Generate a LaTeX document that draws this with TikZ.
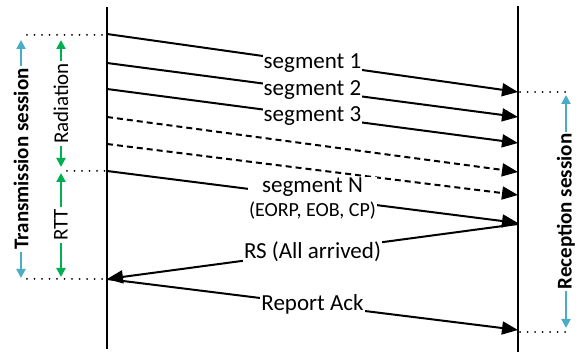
\documentclass[tikz,border=0pt]{standalone}
\usepackage{fontspec}
\setmainfont{Carlito}
\usetikzlibrary{arrows.meta}
\definecolor{sessblue}{RGB}{75,172,198}
\definecolor{rttgreen}{RGB}{0,176,80}

\begin{document}
\begin{tikzpicture}[x=1pt, y=-1pt,
  lifeline/.style={line width=2pt},
  msg/.style={line width=2pt, -{Triangle[length=16pt, width=13pt]}},
  lbl/.style={fill=white, inner sep=1pt, text=black, font=\fontsize{23}{25}\selectfont},
  guide/.style={line width=2pt, line cap=round, dash pattern=on 0pt off 7.5pt},
  period/.style={line width=2pt, {Triangle[length=9pt, width=9pt]}-{Triangle[length=9pt, width=9pt]}},
  periodlbl/.style={lbl, rotate=90, inner sep=2pt, font=\fontsize{21}{23}\selectfont}]
  \useasboundingbox (0,0) rectangle (586,352);

  % Lifelines
  \coordinate (ltop) at (107,7);
  \coordinate (lbot) at (107,349);
  \coordinate (rtop) at (518,6);
  \coordinate (rbot) at (518,352);
  \draw[lifeline] (ltop) -- (lbot);
  \draw[lifeline] (rtop) -- (rbot);

  % Segments
  \coordinate (tx1) at (107,34);  \coordinate (rx1) at (518,92);
  \coordinate (tx2) at (107,63);  \coordinate (rx2) at (518,117);
  \coordinate (tx3) at (107,89);  \coordinate (rx3) at (518,143);
  \coordinate (tx4) at (107,117); \coordinate (rx4) at (518,172);
  \coordinate (tx5) at (107,144); \coordinate (rx5) at (518,195);
  \coordinate (txN) at (107,171); \coordinate (rxN) at (518,223);
  \coordinate (rxR) at (518,224); \coordinate (txR) at (107,279);
  \coordinate (rxA) at (518,330);

  \foreach \i in {1,2,3}
    \draw[msg] (tx\i) -- node[lbl] {segment \i} (rx\i);
  \foreach \i in {4,5}
    \draw[msg, dash pattern=on 6pt off 4pt] (tx\i) -- (rx\i);
  \draw[msg] (txN) -- node[lbl, align=center, yshift=-2pt] {segment N\\[-1pt]{\fontsize{20}{22}\selectfont (EORP, EOB, CP)}} (rxN);
  \draw[msg] (rxR) -- node[lbl] {RS (All arrived)} (txR);
  \draw[msg] (txR) -- node[lbl] {Report Ack} (rxA);

  % Dotted guides
  \coordinate (g1) at (27,35);  \coordinate (l1) at (107,35);
  \coordinate (g2) at (67,171); \coordinate (l2) at (107,171);
  \coordinate (g3) at (27,279); \coordinate (l3) at (107,279);
  \coordinate (g4) at (567,92); \coordinate (r4) at (520,92);
  \coordinate (g5) at (567,332); \coordinate (r5) at (520,332);
  \draw[guide] (g1) -- (l1);
  \draw[guide] (g2) -- (l2);
  \draw[guide] (g3) -- (l3);
  \draw[guide] (r4) -- (g4);
  \draw[guide] (r5) -- (g5);

  % Sessions
  \coordinate (ts1) at (21,40);  \coordinate (ts2) at (21,278);
  \coordinate (rd1) at (61,40);  \coordinate (rd2) at (61,167);
  \coordinate (rt1) at (61,173); \coordinate (rt2) at (61,277);
  \coordinate (rs1) at (566,95); \coordinate (rs2) at (566,328);
  \draw[period, sessblue] (ts2) -- node[periodlbl, font=\fontsize{21}{23}\selectfont\bfseries] {Transmission session} (ts1);
  \draw[period, rttgreen] (rd2) -- node[periodlbl] {Radiation} (rd1);
  \draw[period, rttgreen] (rt2) -- node[periodlbl] {RTT} (rt1);
  \draw[period, sessblue] (rs2) -- node[periodlbl, font=\fontsize{21}{23}\selectfont\bfseries] {Reception session} (rs1);
\end{tikzpicture}
\end{document}
